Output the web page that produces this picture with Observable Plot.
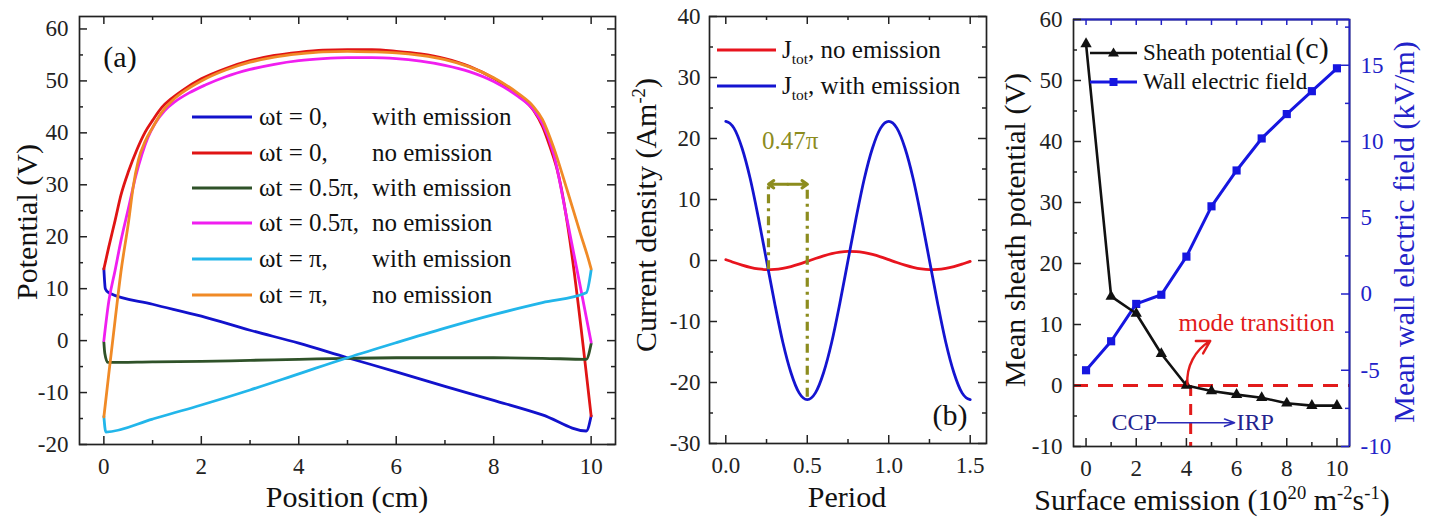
<!DOCTYPE html>
<html><head><meta charset="utf-8">
<script src="https://cdn.jsdelivr.net/npm/d3@7"></script>
<script src="https://cdn.jsdelivr.net/npm/@observablehq/plot@0.6"></script>
<style>
html,body{margin:0;padding:0;background:#fff;}
#root{position:relative;width:1449px;height:527px;overflow:hidden;font-family:"Liberation Serif","Times New Roman",serif;color:#1a1a1a;}
#root svg{position:absolute;overflow:visible;}
.lab{position:absolute;white-space:nowrap;line-height:1;}
.lab sup,.lab sub{font-size:0.62em;line-height:0;}
</style></head><body><div id="root"></div>
<script>
// ---------------- Panel (a): potential profiles ----------------
const posWith0 = [0, 0.03, 0.1, 1, 2, 3, 4, 5, 6, 7, 8, 9, 9.9, 10];
const potWith0 = [13.8, 10.0, 9.2, 7.0, 4.7, 2.0, -0.5, -3.3, -6.0, -8.8, -11.5, -14.3, -17.4, -14.5];
const posNo0 = [0, 0.1, 0.23, 0.35, 0.51, 0.68, 0.85, 1.0, 1.19, 1.4, 1.6, 2.0, 2.5, 3, 3.5, 4, 4.5, 5, 5.5, 6, 6.5, 7, 7.5, 8, 8.5, 8.82, 9.0, 9.16, 9.3, 10];
const potNo0 = [13.8, 18.0, 23.1, 28.0, 32.7, 36.8, 40.2, 42.4, 44.9, 46.7, 48.1, 50.4, 52.4, 53.9, 54.9, 55.5, 55.9, 56.0, 56.0, 55.7, 55.2, 54.3, 52.8, 50.5, 47.3, 44.3, 41.3, 37.2, 33.0, -14.5];
const posWithHalf = [0, 0.02, 0.08, 1, 2, 3, 4, 5, 6, 7, 8, 9, 9.9, 10];
const potWithHalf = [-0.3, -2.5, -4.2, -4.1, -4.0, -3.8, -3.6, -3.4, -3.3, -3.3, -3.3, -3.4, -3.6, -0.6];
const posNoHalf = [0, 0.1, 0.23, 0.35, 0.51, 0.65, 0.78, 0.9, 1.05, 1.25, 1.46, 1.75, 2.08, 2.5, 3, 3.5, 4, 4.5, 5, 5.5, 6, 6.5, 7, 7.5, 8, 8.5, 8.82, 9.0, 9.23, 9.51, 9.78, 10];
const potNoHalf = [0, 7.5, 13.5, 19.2, 25.7, 31.5, 35.8, 39.0, 41.8, 44.3, 46.0, 47.7, 49.2, 50.8, 52.2, 53.2, 53.9, 54.3, 54.5, 54.5, 54.3, 53.8, 53.0, 51.8, 49.9, 47.0, 44.4, 41.8, 36.0, 23.1, 10.3, -0.3];
const posWithPi = [0, 0.04, 1, 2, 3, 4, 5, 6, 7, 8, 9, 9.9, 10];
const potWithPi = [-14.6, -17.6, -15.1, -12.4, -9.5, -6.4, -3.3, -0.4, 2.4, 5.0, 7.3, 9.2, 13.6];
const posNoPi = [0, 0.1, 0.23, 0.35, 0.51, 0.6, 0.71, 0.85, 1.0, 1.19, 1.4, 1.6, 2.0, 2.5, 3, 3.5, 4, 4.5, 5, 5.5, 6, 6.5, 7, 7.5, 8, 8.5, 8.82, 9.0, 9.23, 9.51, 9.78, 9.95, 10];
const potNoPi = [-14.7, -6.5, 3.9, 13.2, 23.1, 29.5, 34.8, 38.4, 41.0, 44.0, 46.2, 47.7, 50.0, 52.1, 53.6, 54.6, 55.2, 55.6, 55.7, 55.6, 55.4, 54.9, 54.1, 52.7, 50.6, 47.6, 45.0, 42.6, 37.2, 28.9, 20.6, 15.5, 13.8];
const legendPhaseA = ["ωt = 0,", "ωt = 0,", "ωt = 0.5π,", "ωt = 0.5π,", "ωt = π,", "ωt = π,"];
const legendCaseA = ["with emission", "no emission", "with emission", "no emission", "with emission", "no emission"];
const colorsA = ["#1212cc", "#e01414", "#2f5229", "#f01ef0", "#22b6ea", "#f08a26"];
const xMajA = [0, 2, 4, 6, 8, 10], xMinA = [1, 3, 5, 7, 9];
const yMajA = [-20, -10, 0, 10, 20, 30, 40, 50, 60], yMinA = [-15, -5, 5, 15, 25, 35, 45, 55];

// ---------------- Panel (b): current density ----------------
const period = [0, 0.025, 0.05, 0.1, 0.15, 0.2, 0.25, 0.3, 0.35, 0.4, 0.45, 0.5, 0.55, 0.6, 0.65, 0.7, 0.75, 0.8, 0.85, 0.9, 0.95, 1.0, 1.05, 1.1, 1.15, 1.2, 1.25, 1.3, 1.35, 1.4, 1.45, 1.475, 1.5];
const jNoEmission = [0.14, -0.09, -0.33, -0.76, -1.13, -1.38, -1.49, -1.46, -1.29, -0.99, -0.60, -0.14, 0.33, 0.76, 1.13, 1.38, 1.49, 1.46, 1.29, 0.99, 0.60, 0.14, -0.33, -0.76, -1.13, -1.38, -1.49, -1.46, -1.29, -0.99, -0.60, -0.37, -0.14];
const jWithEmission = [22.8, 22.5, 21.7, 18.4, 13.4, 7.0, 0, -7.0, -13.4, -18.4, -21.7, -22.8, -21.7, -18.4, -13.4, -7.0, 0, 7.0, 13.4, 18.4, 21.7, 22.8, 21.7, 18.4, 13.4, 7.0, 0, -7.0, -13.4, -18.4, -21.7, -22.5, -22.8];
const phaseLagX = [0.262, 0.5];          // red minimum and blue minimum
const phaseLagBottom = [-1.5, -22.4];
const phaseLagTop = 12.5;
const phaseLagLabel = [{x: 0.395, y: 19.6, text: "0.47π"}];
const xMajB = [0, 0.5, 1.0, 1.5], xMinB = [0.25, 0.75, 1.25];
const yMajB = [-30, -20, -10, 0, 10, 20, 30, 40], yMinB = [-25, -15, -5, 5, 15, 25, 35];

// ---------------- Panel (c): sheath potential & wall field ----------------
const emission = [0, 1, 2, 3, 4, 5, 6, 7, 8, 9, 10];
const sheathPot = [56.0, 14.6, 11.8, 5.2, 0.0, -0.9, -1.5, -2.0, -2.9, -3.3, -3.3];
const wallField = [-5.0, -3.1, -0.65, -0.05, 2.45, 5.75, 8.1, 10.2, 11.8, 13.3, 14.8];
const transitionX = 4.17;
const modeLabel = [{x: 6.8, y: 10.3, text: "mode transition"}];
const modeArrow = [{x1: 4.04, y1: 0.2, x2: 4.95, y2: 7.3}];
const regimeY = -6.1;
const ccpLabel = [{x: 2.82, text: "CCP"}];
const irpLabel = [{x: 6.0, text: "IRP"}];
const regimeArrow = [{x1: 2.85, x2: 5.92}];
const xMajC = [0, 2, 4, 6, 8, 10], xMinC = [1, 3, 5, 7, 9];
const yMajC = [-10, 0, 10, 20, 30, 40, 50, 60], yMinC = [-5, 5, 15, 25, 35, 45, 55];
const yRightMajC = [-10, -5, 0, 5, 10, 15], yRightMinC = [-7.5, -2.5, 2.5, 7.5, 12.5, 17.5];

// ---------------- helpers ----------------
const root = document.getElementById("root");
const FONT = '"Liberation Serif","Times New Roman",serif';
const INK = "#222";
const fmtInt = d => String(d);

function ticks(W, H, {bottom, top, left, right}, stroke = INK, maj = 8, min = 4) {
  const m = [];
  const sw = 1.5;
  if (bottom) { m.push(Plot.ruleX(bottom[0], {insetTop: H - maj, stroke, strokeWidth: sw}));
                m.push(Plot.ruleX(bottom[1], {insetTop: H - min, stroke, strokeWidth: sw})); }
  if (top) { m.push(Plot.ruleX(top[0], {insetBottom: H - maj, stroke, strokeWidth: sw}));
             m.push(Plot.ruleX(top[1], {insetBottom: H - min, stroke, strokeWidth: sw})); }
  if (left) { m.push(Plot.ruleY(left[0], {insetRight: W - maj, stroke, strokeWidth: sw}));
              m.push(Plot.ruleY(left[1], {insetRight: W - min, stroke, strokeWidth: sw})); }
  if (right) { m.push(Plot.ruleY(right[0], {insetLeft: W - maj, stroke, strokeWidth: sw}));
               m.push(Plot.ruleY(right[1], {insetLeft: W - min, stroke, strokeWidth: sw})); }
  return m;
}
function place(svg, left, top) {
  svg.style.left = left + "px"; svg.style.top = top + "px";
  root.appendChild(svg);
}
function label(html, cx, cy, {size = 30, rotate = false, color = "#111"} = {}) {
  const d = document.createElement("div");
  d.className = "lab";
  d.innerHTML = html;
  d.style.left = cx + "px"; d.style.top = cy + "px";
  d.style.fontSize = size + "px"; d.style.color = color;
  d.style.transform = "translate(-50%,-50%)" + (rotate ? " rotate(-90deg)" : "");
  root.appendChild(d);
}
function swatchSvg(len, color, symbol, width = 3) {
  let s = `<svg width="${len}" height="30" style="position:absolute;left:0;top:0;overflow:visible"><line x1="0" x2="${len}" y1="15" y2="15" stroke="${color}" stroke-width="${width}"/>`;
  if (symbol === "triangle") s += `<path d="M${len/2},9.5 L${len/2+5.5},18.5 L${len/2-5.5},18.5 Z" fill="${color}"/>`;
  if (symbol === "square") s += `<rect x="${len/2-4}" y="11" width="8" height="8" fill="${color}"/>`;
  return s + "</svg>";
}
function legendRow(x, y, len, color, parts, {size = 25, symbol = null, width = 3, textColor = "#111"} = {}) {
  const row = document.createElement("div");
  row.className = "lab";
  row.style.left = x + "px"; row.style.top = (y - 15) + "px";
  row.style.height = "30px"; row.style.lineHeight = "30px"; row.style.fontSize = size + "px";
  let h = swatchSvg(len, color, symbol, width);
  for (const [dx, html] of parts) h += `<span style="position:absolute;left:${dx}px;top:0;color:${textColor}">${html}</span>`;
  row.innerHTML = h;
  root.appendChild(row);
}

// ---------------- Panel (a) ----------------
{
  const W = 625, H = 527, m = {l: 79, r: 10, t: 16, b: 83};
  const pw = W - m.l - m.r, ph = H - m.t - m.b;
  const series = [
    [posWith0, potWith0], [posNo0, potNo0], [posWithHalf, potWithHalf],
    [posNoHalf, potNoHalf], [posWithPi, potWithPi], [posNoPi, potNoPi]
  ];
  const lines = series.map(([xs, ys], k) =>
    Plot.line(xs.map((x, i) => ({x, y: ys[i]})), {x: "x", y: "y", stroke: colorsA[k], strokeWidth: 2.8, strokeLinejoin: "round", curve: "monotone-x"}));
  const svg = Plot.plot({
    width: W, height: H, marginLeft: m.l, marginRight: m.r, marginTop: m.t, marginBottom: m.b,
    style: {fontFamily: FONT, fontSize: "23px", color: INK, background: "transparent"},
    x: {domain: [-0.5, 10.5]},
    y: {domain: [-20, 62.4]},
    marks: [
      ...lines,
      ...ticks(pw, ph, {bottom: [xMajA, xMinA], top: [xMajA, xMinA], left: [yMajA, yMinA], right: [yMajA, yMinA]}),
      Plot.frame({stroke: INK, strokeWidth: 1.7}),
      Plot.axisX({ticks: xMajA, tickSize: 0, tickPadding: 13, label: null, tickFormat: fmtInt}),
      Plot.axisY({ticks: yMajA, tickSize: 0, tickPadding: 11, label: null, tickFormat: fmtInt})
    ]
  });
  place(svg, 0, 0);
  label("Potential (V)", 27, 222, {rotate: true});
  label("Position (cm)", 347, 497);
  label("(a)", 120, 57);
  const rowsY = [117, 153, 188, 223, 259, 295];
  rowsY.forEach((y, k) => legendRow(192, y, 60, colorsA[k], [[67, legendPhaseA[k]], [180, legendCaseA[k]]]));
}

// ---------------- Panel (b) ----------------
{
  const W = 375, H = 527, m = {l: 84, r: 14, t: 16, b: 84};
  const pw = W - m.l - m.r, ph = H - m.t - m.b;
  const olive = "#8c8c1e";
  const tb = period.map((t, i) => ({t, no: jNoEmission[i], wi: jWithEmission[i]}));
  const mid = (phaseLagX[0] + phaseLagX[1]) / 2;
  const svg = Plot.plot({
    width: W, height: H, marginLeft: m.l, marginRight: m.r, marginTop: m.t, marginBottom: m.b,
    style: {fontFamily: FONT, fontSize: "23px", color: INK, background: "transparent"},
    x: {domain: [-0.1, 1.6]},
    y: {domain: [-30, 40]},
    marks: [
      Plot.line(tb, {x: "t", y: "no", stroke: "#e8141e", strokeWidth: 2.8, curve: "monotone-x"}),
      Plot.line(tb, {x: "t", y: "wi", stroke: "#1414d0", strokeWidth: 2.8, curve: "monotone-x"}),
      Plot.ruleX(phaseLagX, {x: d => d, y1: (d, i) => phaseLagBottom[i], y2: phaseLagTop, stroke: olive, strokeWidth: 3.2, strokeDasharray: "9,5,3,5"}),
      Plot.arrow([0], {x1: () => mid, x2: phaseLagX[0], y1: phaseLagTop, y2: phaseLagTop, stroke: olive, strokeWidth: 3, headLength: 7, headAngle: 70}),
      Plot.arrow([0], {x1: () => mid, x2: phaseLagX[1], y1: phaseLagTop, y2: phaseLagTop, stroke: olive, strokeWidth: 3, headLength: 7, headAngle: 70}),
      Plot.text(phaseLagLabel, {x: "x", y: "y", text: "text", fill: olive, fontSize: 25}),
      ...ticks(pw, ph, {bottom: [xMajB, xMinB], top: [xMajB, xMinB], left: [yMajB, yMinB], right: [yMajB, yMinB]}),
      Plot.frame({stroke: INK, strokeWidth: 1.7}),
      Plot.axisX({ticks: xMajB, tickSize: 0, tickPadding: 13, label: null, tickFormat: d3.format(".1f")}),
      Plot.axisY({ticks: yMajB, tickSize: 0, tickPadding: 9, label: null, tickFormat: fmtInt})
    ]
  });
  place(svg, 625, 0);
  label("Current density (Am<sup>-2</sup>)", 646, 215, {rotate: true});
  label("Period", 847, 497);
  label("(b)", 950, 415);
  legendRow(717, 50, 59, "#e8141e", [[65, "J<sub>tot</sub>, no emission"]]);
  legendRow(717, 86, 59, "#1414d0", [[65, "J<sub>tot</sub>, with emission"]]);
}

// ---------------- Panel (c) ----------------
{
  const W = 449, H = 527, m = {l: 73, r: 100, t: 19, b: 81};
  const pw = W - m.l - m.r, ph = H - m.t - m.b;
  const blue = "#1616e0", axisBlue = "#2222c8", red = "#e21b1b", navy = "#23238e";
  // right axis (kV/m) shares the frame with the left axis (V): -10..18 <-> -10..60
  const toLeft = e => -10 + (e + 10) * 2.5;
  const fromLeft = y => Math.round((y + 10) / 2.5 - 10);
  const tc = emission.map((x, i) => ({x, v: sheathPot[i], e: toLeft(wallField[i])}));
  const svg = Plot.plot({
    width: W, height: H, marginLeft: m.l, marginRight: m.r, marginTop: m.t, marginBottom: m.b,
    style: {fontFamily: FONT, fontSize: "23px", color: INK, background: "transparent"},
    x: {domain: [-0.5, 10.5]},
    y: {domain: [-10, 60]},
    marks: [
      Plot.ruleY([0], {stroke: red, strokeWidth: 3, strokeDasharray: "15,10"}),
      Plot.ruleX([transitionX], {y1: 0, y2: -10, stroke: red, strokeWidth: 3, strokeDasharray: "11,8"}),
      Plot.line(tc, {x: "x", y: "e", stroke: blue, strokeWidth: 3}),
      Plot.dot(tc, {x: "x", y: "e", symbol: "square", r: 4.6, fill: blue}),
      Plot.line(tc, {x: "x", y: "v", stroke: "#111", strokeWidth: 2.6}),
      Plot.dot(tc, {x: "x", y: "v", symbol: "triangle", r: 4.2, fill: "#111"}),
      Plot.arrow(modeArrow, {x1: "x1", y1: "y1", x2: "x2", y2: "y2", bend: 32, stroke: red, strokeWidth: 2.4, headLength: 9}),
      Plot.text(modeLabel, {x: "x", y: "y", text: "text", fill: red, fontSize: 25}),
      Plot.arrow(regimeArrow, {x1: "x1", x2: "x2", y1: regimeY, y2: regimeY, stroke: "#2a2ab8", strokeWidth: 1.6, headLength: 10, headAngle: 40}),
      Plot.text(ccpLabel, {x: "x", y: regimeY, text: "text", textAnchor: "end", fill: navy, fontSize: 24}),
      Plot.text(irpLabel, {x: "x", y: regimeY, text: "text", textAnchor: "start", fill: navy, fontSize: 24}),
      Plot.frame({stroke: INK, strokeWidth: 1.7}),
      Plot.ruleX([10.5], {stroke: axisBlue, strokeWidth: 1.8}),
      Plot.ruleY([60], {stroke: axisBlue, strokeWidth: 1.8}),
      ...ticks(pw, ph, {bottom: [xMajC, xMinC], left: [yMajC, yMinC]}),
      ...ticks(pw, ph, {top: [[], emission]}, axisBlue, 8, 6),
      ...ticks(pw, ph, {right: [yRightMajC.map(toLeft), yRightMinC.map(toLeft)]}, axisBlue, 8, 4),
      Plot.axisX({ticks: xMajC, tickSize: 0, tickPadding: 13, label: null, tickFormat: fmtInt}),
      Plot.axisY({ticks: yMajC, tickSize: 0, tickPadding: 11, label: null, tickFormat: fmtInt}),
      Plot.axisY({anchor: "right", ticks: yRightMajC.map(toLeft), tickSize: 0, tickPadding: 11, label: null, tickFormat: y => String(fromLeft(y)), fill: axisBlue})
    ]
  });
  place(svg, 1000, 0);
  label("Mean sheath potential (V)", 1015, 230, {rotate: true});
  label("Mean wall electric field (kV/m)", 1404, 232, {rotate: true, color: axisBlue});
  label("Surface emission (10<sup>20</sup> m<sup>-2</sup>s<sup>-1</sup>)", 1212, 500);
  label("(c)", 1312, 48);
  legendRow(1090, 53, 47, "#111", [[53, "Sheath potential"]], {size: 23, symbol: "triangle", width: 2.6});
  legendRow(1090, 82, 47, blue, [[53, "Wall electric field"]], {size: 23, symbol: "square", width: 3});
}
</script></body></html>
